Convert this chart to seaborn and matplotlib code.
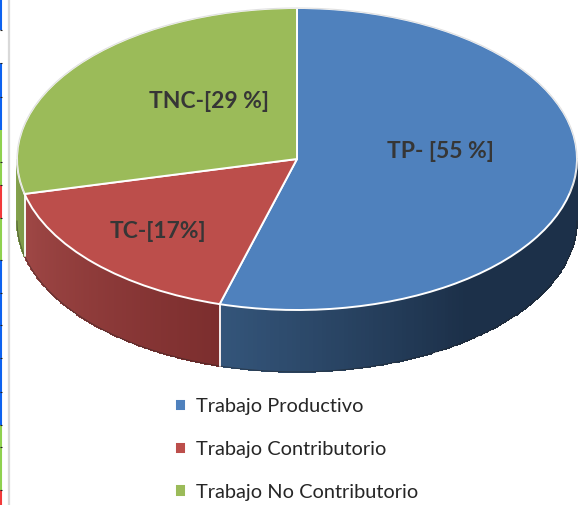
import numpy as np
import matplotlib
matplotlib.use("Agg")
import matplotlib.pyplot as plt
import seaborn as sns

labels = ["Trabajo Productivo", "Trabajo Contributorio", "Trabajo No Contributorio"]
values = [55, 17, 29]
slice_text = ["TP- [55 %]", "TC-[17%]", "TNC-[29 %]"]
colors = ["#4f81bd", "#bc4e4b", "#9bbb59"]
wall_colors = [["#34557a", "#1c3049", "#1c3049"], ["#a04846", "#7c2e2e"], ["#7f9b4a", "#86a44e"]]

# bits of the neighbouring chart left in the screenshot, down the left border
strip_colors = ["#0d62f0", "#0d62f0", "#8fd14f", "#f23a3a", "#8fd14f", "#0d62f0", "#8fd14f", "#f23a3a"]
strip_top = [0, 63, 130, 185, 218, 260, 425, 490]
strip_bottom = [30, 130, 185, 218, 260, 425, 490, 505]
strip_ticks = [30, 63, 97, 162, 185, 218, 260, 293, 325, 358, 392, 425, 447, 490]

sns.set_theme(style="white")
plt.rcParams["font.family"] = ["Lato", "DejaVu Sans"]

fig = plt.figure(figsize=(5.84, 5.05), dpi=100)

back = fig.add_axes([0, 0, 1, 1])
back.set_xlim(0, 584)
back.set_ylim(505, 0)
back.axis("off")
back.vlines([1] * len(strip_top), strip_top, strip_bottom, colors=strip_colors, lw=1.5)
back.hlines(strip_ticks, 0, 2, color="#222222", lw=0.8)
back.axvline(8.5, color="#d9d9d9", lw=1.6)

ax = fig.add_axes([0, 0, 1, 1])
ax.patch.set_visible(False)

# wall height of the disc, in units of the flattened radius
depth = 0.41

wedges, _ = ax.pie(values, colors=colors, startangle=90, counterclock=False, radius=1,
                   wedgeprops={"edgecolor": "white", "linewidth": 1.4, "zorder": 5})
ax.set_aspect("auto")
ax.set_xlim(-297 / 280, 287 / 280)
ax.set_ylim(-346 / 151, 159 / 151)
ax.axis("off")

# side walls, only the part of each slice that faces the viewer
ends = 90 - np.cumsum(values) / sum(values) * 360 + 360
starts = np.r_[450, ends[:-1]]
for i in range(3):
    lo, hi = ends[i], starts[i]
    if i == 0:
        lo, hi = ends[0], 360
    else:
        lo, hi = max(lo, 180), min(hi, 360)
    th = np.radians(np.linspace(lo, hi, 120))
    X = np.vstack([np.cos(th), np.cos(th)])
    Y = np.vstack([np.sin(th), np.sin(th) - depth])
    cmap = sns.blend_palette(wall_colors[i], as_cmap=True)
    shade = np.linspace(0, 1, len(th) - 1).reshape(1, -1)
    if i == 2:
        shade = shade[:, ::-1]
    ax.pcolormesh(X, Y, shade, cmap=cmap, shading="flat", antialiased=False, zorder=2,
                  edgecolor="face", linewidth=0.3)
    ax.plot(np.cos(th), np.sin(th) - depth, color="#222222", alpha=0.45, lw=0.8, zorder=3)

# white seams on the wall where the slices meet
for a in ends[:2]:
    t = np.radians(a)
    ax.plot([np.cos(t)] * 2, [np.sin(t), np.sin(t) - depth], color="white", lw=1.3, zorder=4)

# soft grey bevel on the back rim
th = np.radians(np.linspace(-13, 193, 300))
ax.plot(np.cos(th), np.sin(th), color="#777777", alpha=0.22, lw=0.8, zorder=6)

text_x = [440, 158, 209]
text_y = [151, 231, 102]
for s, x, y in zip(slice_text, text_x, text_y):
    fig.text(x / 584, 1 - y / 505, s, ha="center", va="center", fontsize=16.5,
             fontweight="bold", color="#363636", zorder=10)

leg = fig.legend(wedges, labels, loc="upper left", bbox_to_anchor=(161 / 584, 1 - 384 / 505),
                 frameon=False, fontsize=14.4, labelspacing=1.29, handlelength=0.55,
                 handleheight=0.55, handletextpad=0.5, borderpad=0.2, labelcolor="#262626")

fig.savefig("out.png", dpi=100)
